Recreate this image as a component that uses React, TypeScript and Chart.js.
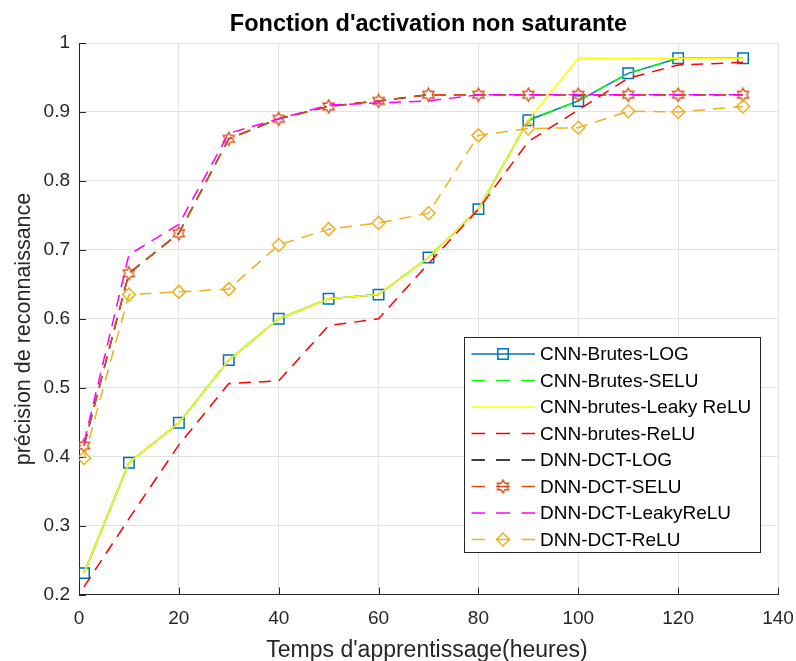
import React, { useEffect, useRef } from 'react';
import { Chart, registerables } from 'chart.js';

Chart.register(...registerables);

// ---------- data ----------
const xValues = [1, 10, 20, 30, 40, 50, 60, 70, 80, 90, 100, 110, 120, 133];

const cnnBrutesLog = [0.231, 0.391, 0.449, 0.54, 0.6, 0.629, 0.635, 0.689, 0.759, 0.888, 0.916, 0.956, 0.978, 0.978];
const cnnBrutesSelu = [0.231, 0.391, 0.449, 0.54, 0.6, 0.629, 0.635, 0.689, 0.759, 0.888, 0.916, 0.956, 0.978, 0.978];
const cnnBrutesLeaky = [0.231, 0.391, 0.449, 0.54, 0.6, 0.629, 0.635, 0.689, 0.759, 0.888, 0.978, 0.978, 0.978, 0.978];
const cnnBrutesRelu = [0.211, 0.31, 0.417, 0.506, 0.51, 0.59, 0.6, 0.68, 0.759, 0.857, 0.903, 0.949, 0.968, 0.972];
const dnnDctLog = [0.416, 0.666, 0.724, 0.861, 0.89, 0.908, 0.916, 0.925, 0.925, 0.925, 0.925, 0.925, 0.925, 0.925];
const dnnDctSelu = [0.416, 0.666, 0.724, 0.861, 0.89, 0.908, 0.916, 0.925, 0.925, 0.925, 0.925, 0.925, 0.925, 0.925];
const dnnDctLeaky = [0.42, 0.693, 0.737, 0.869, 0.89, 0.91, 0.913, 0.916, 0.925, 0.925, 0.925, 0.925, 0.925, 0.925];
const dnnDctRelu = [0.398, 0.635, 0.639, 0.643, 0.707, 0.73, 0.739, 0.753, 0.866, 0.876, 0.877, 0.901, 0.9, 0.908];

const seriesLabels = [
  'CNN-Brutes-LOG',
  'CNN-Brutes-SELU',
  'CNN-brutes-Leaky ReLU',
  'CNN-brutes-ReLU',
  'DNN-DCT-LOG',
  'DNN-DCT-SELU',
  'DNN-DCT-LeakyReLU',
  'DNN-DCT-ReLU',
];
const seriesValues = [
  cnnBrutesLog,
  cnnBrutesSelu,
  cnnBrutesLeaky,
  cnnBrutesRelu,
  dnnDctLog,
  dnnDctSelu,
  dnnDctLeaky,
  dnnDctRelu,
];

const xTickStep = 20;
const yTickStep = 0.1;
const titleText = "Fonction d'activation non saturante";
const xTitleText = "Temps d'apprentissage(heures)";
const yTitleText = 'précision de reconnaissance';

// ---------- styles ----------
const FONT = '"Liberation Sans", Arial, Helvetica, sans-serif';
const AXIS_COLOR = '#262626';
const DASH = [12, 8];

function makeHexagram(color: string, R: number): HTMLCanvasElement {
  const s = Math.ceil(R * 2 + 4);
  const c = document.createElement('canvas');
  c.width = s;
  c.height = s;
  const ctx = c.getContext('2d')!;
  ctx.strokeStyle = color;
  ctx.lineWidth = 1.4;
  ctx.beginPath();
  for (let k = 0; k < 12; k++) {
    const r = k % 2 === 0 ? R : R / Math.sqrt(3);
    const a = -Math.PI / 2 + (k * Math.PI) / 6;
    const px = s / 2 + r * Math.cos(a);
    const py = s / 2 + r * Math.sin(a);
    if (k === 0) ctx.moveTo(px, py);
    else ctx.lineTo(px, py);
  }
  ctx.closePath();
  ctx.stroke();
  return c;
}

type Style = {
  color: string;
  dashed: boolean;
  marker: null | 'square' | 'hexagram' | 'diamond';
};

const styles: Style[] = [
  { color: '#0072BD', dashed: false, marker: 'square' },
  { color: '#00FF00', dashed: true, marker: null },
  { color: '#FFFF00', dashed: false, marker: null },
  { color: '#FF0000', dashed: true, marker: null },
  { color: '#000000', dashed: true, marker: null },
  { color: '#D95319', dashed: true, marker: 'hexagram' },
  { color: '#FF00FF', dashed: true, marker: null },
  { color: '#EDB120', dashed: true, marker: 'diamond' },
];

function drawMarker(ctx: CanvasRenderingContext2D, st: Style, x: number, y: number, hex: HTMLCanvasElement) {
  ctx.save();
  ctx.setLineDash([]);
  ctx.strokeStyle = st.color;
  ctx.lineWidth = 1.5;
  if (st.marker === 'square') {
    ctx.strokeRect(x - 5.2, y - 5.2, 10.4, 10.4);
  } else if (st.marker === 'diamond') {
    ctx.beginPath();
    ctx.moveTo(x - 6.5, y);
    ctx.lineTo(x, y - 6.5);
    ctx.lineTo(x + 6.5, y);
    ctx.lineTo(x, y + 6.5);
    ctx.closePath();
    ctx.stroke();
  } else if (st.marker === 'hexagram') {
    ctx.drawImage(hex, x - hex.width / 2, y - hex.height / 2);
  }
  ctx.restore();
}

export default function App() {
  const ref = useRef<HTMLCanvasElement | null>(null);

  useEffect(() => {
    document.body.style.margin = '0';
    const canvas = ref.current;
    if (!canvas) return;
    const hex = makeHexagram('#D95319', 6.5);

    const datasets = seriesValues.map((vals, i) => {
      const st = styles[i];
      let pointStyle: any = false;
      let pointRadius = 0;
      if (st.marker === 'square') {
        pointStyle = 'rect';
        pointRadius = 7.4;
      } else if (st.marker === 'diamond') {
        pointStyle = 'rectRot';
        pointRadius = 6.5;
      } else if (st.marker === 'hexagram') {
        pointStyle = hex;
        pointRadius = 6.5;
      }
      return {
        label: seriesLabels[i],
        data: xValues.map((x, k) => ({ x, y: vals[k] })),
        borderColor: st.color,
        backgroundColor: st.color,
        borderWidth: 1.5,
        borderDash: st.dashed ? DASH : [],
        pointStyle: pointStyle || 'circle',
        pointRadius,
        pointHoverRadius: pointRadius,
        pointBorderColor: st.color,
        pointBackgroundColor: 'rgba(0,0,0,0)',
        pointBorderWidth: 1.5,
        tension: 0,
        fill: false,
        order: -i,
      };
    });

    const decorations = {
      id: 'decorations',
      beforeDatasetsDraw(chart: any) {
        const ctx = chart.ctx as CanvasRenderingContext2D;
        const { left, bottom } = chart.chartArea;
        const xs = chart.scales.x;
        const ys = chart.scales.y;
        ctx.save();
        ctx.strokeStyle = AXIS_COLOR;
        ctx.lineWidth = 1;
        ctx.beginPath();
        xs.ticks.forEach((t: any) => {
          const px = Math.round(xs.getPixelForValue(t.value)) + 0.5;
          ctx.moveTo(px, bottom);
          ctx.lineTo(px, bottom - 7);
        });
        ys.ticks.forEach((t: any) => {
          const py = Math.round(ys.getPixelForValue(t.value)) + 0.5;
          ctx.moveTo(left, py);
          ctx.lineTo(left + 7, py);
        });
        ctx.stroke();
        ctx.restore();
      },
      afterDraw(chart: any) {
        const ctx = chart.ctx as CanvasRenderingContext2D;
        const { left, right } = chart.chartArea;
        ctx.save();
        // title
        ctx.fillStyle = '#000';
        ctx.font = `bold 23.5px ${FONT}`;
        ctx.textAlign = 'center';
        ctx.textBaseline = 'alphabetic';
        ctx.fillText(titleText, (left + right) / 2, 31);
        // x title
        ctx.fillStyle = AXIS_COLOR;
        ctx.font = `23px ${FONT}`;
        ctx.fillText(xTitleText, 427, 657);
        // y title
        ctx.save();
        ctx.translate(30, 329);
        ctx.rotate(-Math.PI / 2);
        ctx.font = `21.5px ${FONT}`;
        ctx.fillText(yTitleText, 0, 0);
        ctx.restore();

        // legend
        const bx = 464.5, by = 337.5, bw = 296, bh = 215;
        ctx.fillStyle = '#fff';
        ctx.fillRect(bx, by, bw, bh);
        ctx.strokeStyle = AXIS_COLOR;
        ctx.lineWidth = 1;
        ctx.setLineDash([]);
        ctx.strokeRect(bx, by, bw, bh);
        const x0 = 471.5, x1 = 535, mx = 503;
        seriesLabels.forEach((lab, i) => {
          const st = styles[i];
          const y = 354 + i * 26.5;
          ctx.strokeStyle = st.color;
          ctx.lineWidth = 1.5;
          ctx.beginPath();
          if (st.dashed) {
            const segs = [[471.5, 485], [496, 510], [521.5, 535]];
            segs.forEach(([a, b]) => {
              ctx.moveTo(a, y);
              ctx.lineTo(b, y);
            });
          } else {
            ctx.moveTo(x0, y);
            ctx.lineTo(x1, y);
          }
          ctx.stroke();
          if (st.marker) drawMarker(ctx, st, mx, y, hex);
          ctx.fillStyle = '#000';
          ctx.font = `19px ${FONT}`;
          ctx.textAlign = 'left';
          ctx.textBaseline = 'middle';
          ctx.fillText(lab, 540, y + 1);
        });
        ctx.restore();
      },
    };

    const chart = new Chart(canvas, {
      type: 'line',
      data: { datasets: datasets as any },
      options: {
        animation: false,
        responsive: false,
        maintainAspectRatio: false,
        layout: { padding: { top: 43, right: 18, left: 0, bottom: 0 } },
        plugins: {
          legend: { display: false },
          title: { display: false },
          tooltip: { enabled: false },
        },
        scales: {
          x: {
            type: 'linear',
            min: 0,
            max: 140,
            ticks: {
              stepSize: xTickStep,
              color: AXIS_COLOR,
              font: { family: FONT, size: 19 },
              padding: 13,
              maxRotation: 0,
            },
            grid: { color: '#e2e2e2', drawTicks: false, lineWidth: 1 },
            border: { display: true, color: AXIS_COLOR, width: 1 },
            afterFit: (s: any) => {
              s.height = 66.5;
              s.paddingRight = 0;
              s.paddingLeft = 0;
            },
          },
          y: {
            type: 'linear',
            min: 0.2,
            max: 1,
            ticks: {
              stepSize: yTickStep,
              color: AXIS_COLOR,
              font: { family: FONT, size: 19 },
              padding: 9,
              callback: (v: any) => String(Number(Number(v).toFixed(1))),
            },
            grid: { color: '#e2e2e2', drawTicks: false, lineWidth: 1 },
            border: { display: true, color: AXIS_COLOR, width: 1 },
            afterFit: (s: any) => {
              s.width = 79;
              s.paddingTop = 0;
              s.paddingBottom = 0;
            },
          },
        },
      },
      plugins: [decorations],
    });

    return () => chart.destroy();
  }, []);

  return (
    <div style={{ position: 'absolute', left: 0, top: 0, width: 796, height: 661, background: '#fff' }}>
      <canvas ref={ref} width={796} height={661} style={{ display: 'block', width: 796, height: 661 }} />
    </div>
  );
}
